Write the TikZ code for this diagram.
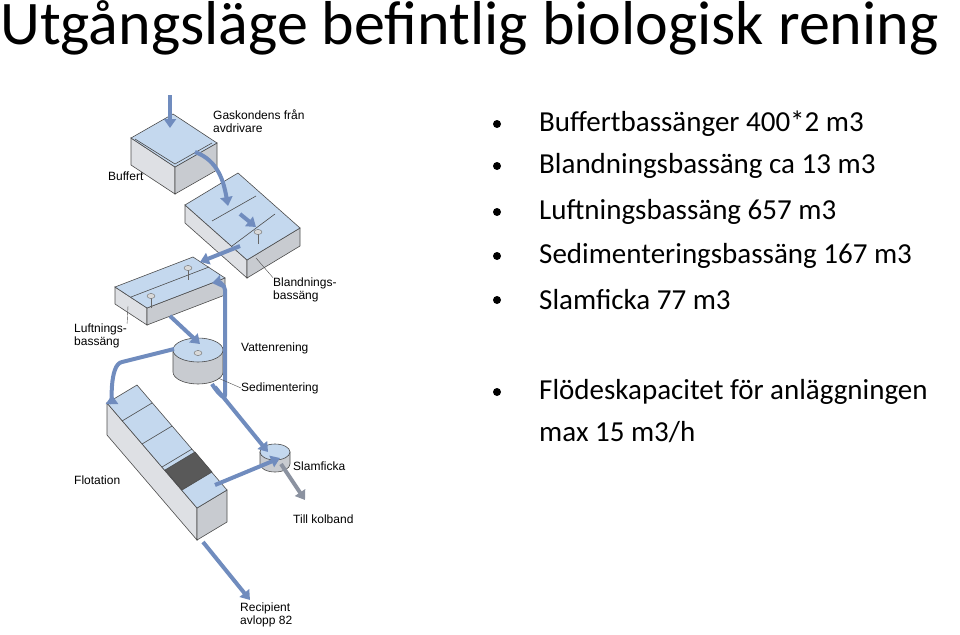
\documentclass[tikz,border=0pt]{standalone}
\usepackage{fontspec}
\setmainfont{Carlito}
\newfontfamily\arial{Liberation Sans}
\usetikzlibrary{arrows.meta}
\definecolor{water}{RGB}{196,216,238}
\definecolor{wall}{RGB}{222,224,228}
\definecolor{wallside}{RGB}{200,203,208}
\definecolor{pipe}{RGB}{112,140,190}
\definecolor{pipedark}{RGB}{90,100,120}
\tikzset{
 lbl/.style={font=\arial\fontsize{12}{13}\selectfont, align=left, anchor=west, inner sep=0pt},
 bul/.style={font=\fontsize{29}{34}\selectfont, anchor=west, inner sep=0pt},
 dot/.style={circle, fill=black, inner sep=0pt, minimum size=8pt},
 flow/.style={draw=pipe, line width=4pt, -{Triangle[length=9pt,width=12pt]}},
 gflow/.style={draw=pipedark!70, line width=4pt, -{Triangle[length=9pt,width=12pt]}},
 face/.style={draw=black!70, line width=0.6pt},
}
\newcommand\ibox[5]{% left, front, right, back, height
 \fill[wall,face] (#1) -- (#2) -- ([yshift=-#5pt]#2) -- ([yshift=-#5pt]#1) -- cycle;
 \fill[wallside,face] (#2) -- (#3) -- ([yshift=-#5pt]#3) -- ([yshift=-#5pt]#2) -- cycle;
 \fill[water,face] (#1) -- (#2) -- (#3) -- (#4) -- cycle;
}
\begin{document}
\begin{tikzpicture}[x=1pt,y=-1pt]
\useasboundingbox (0,0) rectangle (960,634);
\node[font=\fontsize{62}{68}\selectfont, anchor=base west, inner sep=0pt] (title) at (0,45) {Utgångsläge befintlig biologisk rening};
% bullets
\foreach \y/\t [count=\i] in {124/Buffertbassänger 400*2 m3, 166/Blandningsbassäng ca 13 m3, 212/Luftningsbassäng 657 m3, 256/Sedimenteringsbassäng 167 m3, 300/Slamficka 77 m3, 392/Flödeskapacitet för anläggningen}{
 \node[dot] (d\i) at (497,\y) {};
 \node[bul] (b\i) at (539,\y) {\t};
}
\node[bul] (b7) at (539,432) {max 15 m3/h};
% boxes
\ibox{131,138}{175,167}{217,143}{173,114}{27}
\draw[face] (135,139) -- (175,164) -- (212,143);
\ibox{185,205}{247,260}{300,228}{238,173}{18}
\draw[face] (212,221) -- (256,196) (232,246) -- (275,214);
\ibox{115,287}{147,308}{225,278}{193,257}{17}
\draw[face] (131,297) -- (209,267);
\ibox{107,403}{197,508}{227,490}{137,385}{32}
\draw[face] (122,421) -- (152,403) (142,444) -- (172,426) (162,467) -- (192,449);
\fill[black!65,face] (165,470) -- (195,452) -- (212,472) -- (182,490) -- cycle;
% mixers
\foreach \p in {(258,232),(151,296),(188,268),(198,353)}{
 \draw[black!60, line width=0.5pt] \p ++(0,2) -- ++(0,10);
 \fill[black!15, draw=black!60] \p ellipse (4 and 2.5);
}
% sedimentering cylinder
\fill[wallside,face] (173,350) -- (173,372) arc[start angle=180,end angle=0,x radius=25,y radius=12] -- (223,350) -- cycle;
\fill[water,face] (198,350) ellipse (25 and 12);
\fill[black!15, draw=black!60] (198,353) ellipse (4 and 2.5);
% slamficka
\fill[wallside,face] (260,452) -- (260,464) arc[start angle=180,end angle=0,x radius=15,y radius=8] -- (290,452) -- cycle;
\fill[water,face] (275,452) ellipse (15 and 8);
% named anchors for flows
\coordinate (in0) at (170,95); \coordinate (in1) at (170,128);
\coordinate (bu) at (195,152); \coordinate (bl) at (228,206);
\coordinate (bl1) at (240,214); \coordinate (bl2) at (256,227);
\coordinate (bl3) at (240,246); \coordinate (lu) at (200,262);
\coordinate (lu1) at (170,316); \coordinate (se) at (200,344);
\coordinate (se1) at (212,384); \coordinate (lu2) at (212,283);
\coordinate (se2) at (174,349); \coordinate (fl) at (112,395);
\coordinate (se3) at (215,387); \coordinate (sl) at (268,452);
\coordinate (fl2) at (215,485); \coordinate (sl2) at (280,458);
\coordinate (sl3) at (281,464); \coordinate (kb) at (305,500);
\coordinate (fl3) at (203,542); \coordinate (rec) at (250,600);
\draw[flow] (in0) -- (in1);
\draw[flow] (bu) to[out=-20,in=100] (bl);
\draw[flow] (bl1) -- (bl2);
\draw[flow] (bl3) -- (lu);
\draw[flow] (lu1) -- (se);
\draw[flow] (se1) to[out=-60,in=-90] (225,395) -- (225,290) to[out=90,in=10] (lu2);
\draw[flow] (se2) -- (122,362) to[out=-170,in=-90] (fl);
\draw[flow] (se3) -- (sl);
\draw[flow] (fl2) -- (sl2);
\draw[gflow] (sl3) -- (kb);
\draw[flow] (fl3) -- (rec);
% labels
\node[lbl] (l1) at (213,121) {Gaskondens från\\avdrivare};
\node[lbl] (l2) at (108,176) {Buffert};
\node[lbl] (l3) at (273,290) {Blandnings-\\bassäng};
\node[lbl] (l4) at (74,336) {Luftnings-\\bassäng};
\node[lbl] (l5) at (241,348) {Vattenrening};
\node[lbl] (l6) at (241,388) {Sedimentering};
\node[lbl] (l7) at (293,466) {Slamficka};
\node[lbl] (l8) at (74,480) {Flotation};
\node[lbl] (l9) at (293,519) {Till kolband};
\node[lbl] (l10) at (240,615) {Recipient\\avlopp 82};
\draw[black!70] (l3.north west) -- (256,258);
\draw[black!70] (l4.north east) -- (128,306);
\draw[black!70] (l6.west) -- (218,378);
\end{tikzpicture}
\end{document}
